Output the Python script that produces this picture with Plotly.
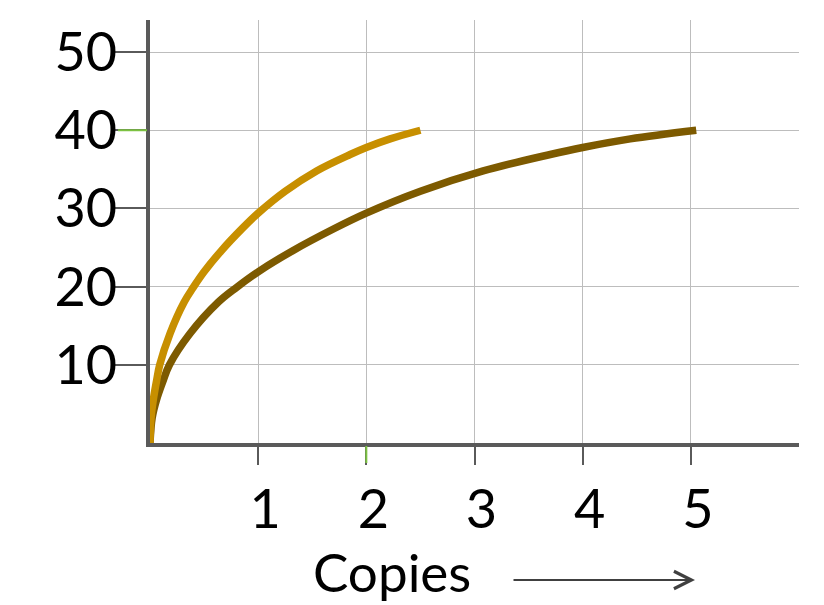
import plotly.graph_objects as go

# Data
gold_x = [0, 0.01, 0.03, 0.06, 0.09, 0.185, 0.315, 0.4, 0.5, 0.66, 0.85, 1.0, 1.25, 1.54, 1.85, 2.0, 2.22, 2.5]
gold_y = [0, 3.2, 5.5, 7.9, 10, 14, 18.0, 19.9, 21.9, 24.6, 27.4, 29.4, 32.2, 34.8, 36.9, 37.8, 38.9, 40.0]

brown_x = [0, 0.02, 0.06, 0.12, 0.18, 0.37, 0.63, 0.8, 1.0, 1.32, 1.7, 2.0, 2.5, 3.08, 3.7, 4.0, 4.44, 5.05]
brown_y = [0, 3.2, 5.5, 7.9, 10, 14, 18.0, 19.9, 21.9, 24.6, 27.4, 29.4, 32.2, 34.8, 36.9, 37.8, 38.9, 40.0]

x_ticks = [1, 2, 3, 4, 5]
x_tick_labels = ["1", "2", "3", "4", "5"]
y_ticks = [10, 20, 30, 40, 50]
y_tick_labels = ["10", "20", "30", "40", "50"]
x_title = "Copies"

GOLD = "#C78F00"
BROWN = "#7D5A00"
AXIS = "#5A5A5A"
GRID = "#BDBDBD"
GREEN = "#7CC242"
FONT = "Lato"

fig = go.Figure()
fig.add_trace(go.Scatter(x=brown_x, y=brown_y, mode="lines",
                         line=dict(color=BROWN, width=7.5, shape="spline", smoothing=1.0),
                         showlegend=False, hoverinfo="skip"))
fig.add_trace(go.Scatter(x=gold_x, y=gold_y, mode="lines",
                         line=dict(color=GOLD, width=7.5, shape="spline", smoothing=1.0),
                         showlegend=False, hoverinfo="skip"))

fig.update_layout(
    width=824, height=605,
    margin=dict(l=142, r=33, t=12, b=170),
    paper_bgcolor="white", plot_bgcolor="white",
    font=dict(family=FONT, color="black"),
    xaxis=dict(range=[0, 6], tickvals=x_ticks, ticktext=x_tick_labels,
               automargin=False,
               showgrid=True, gridcolor=GRID, gridwidth=1.3, zeroline=False,
               showline=True, linecolor=AXIS, linewidth=4,
               ticks="outside", ticklen=18, tickwidth=2, tickcolor=AXIS,
               tickfont=dict(size=54, family=FONT, color="black"),
               ticklabelshift=7, ticklabelstandoff=-2),
    yaxis=dict(range=[0, 54.1], tickvals=y_ticks, ticktext=y_tick_labels,
               automargin=False,
               showgrid=True, gridcolor=GRID, gridwidth=1.3, zeroline=False,
               showline=True, linecolor=AXIS, linewidth=4,
               ticks="outside", ticklen=32, tickwidth=2, tickcolor=AXIS,
               tickfont=dict(size=54, family=FONT, color="black"),
               ticklabelstandoff=-14),
)

# green highlighted ticks
fig.add_shape(type="line", xref="x", yref="paper", x0=2, x1=2,
              ysizemode="pixel", yanchor=0, y0=-3, y1=-20,
              line=dict(color=GREEN, width=2))
fig.add_shape(type="line", xref="paper", yref="y", y0=40, y1=40,
              xsizemode="pixel", xanchor=0, x0=-32, x1=-3,
              line=dict(color=GREEN, width=2))

# axis title and arrow
fig.add_annotation(text=x_title, xref="paper", yref="paper",
                   x=(392 - 150) / 649, y=(443 - 571) / 423,
                   xanchor="center", yanchor="middle", showarrow=False,
                   font=dict(size=53, family=FONT, color="black"))
fig.add_annotation(text="", xref="paper", yref="paper",
                   x=(695 - 150) / 649, y=(443 - 580) / 423,
                   ax=-183, ay=0, showarrow=True,
                   arrowhead=5, arrowsize=1.7, arrowwidth=2, arrowcolor="#404040")

fig.write_html("out.html")
